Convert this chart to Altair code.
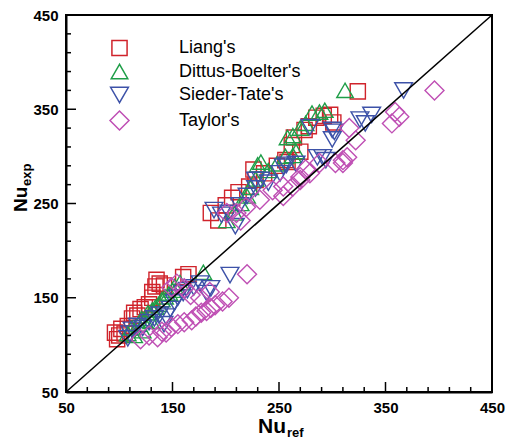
import altair as alt
import pandas as pd

series_names = ["Liang's", "Dittus-Boelter's", "Sieder-Tate's", "Taylor's"]
series_colors = ["#d0232b", "#1f9e48", "#3d52a8", "#bf4fb4"]
series_shapes = ["square", "triangle-up", "triangle-down", "diamond"]

liang_ref = [96, 98, 100, 102, 105, 108, 112, 114, 117, 120, 124, 128, 131, 131, 134, 135, 138, 142, 160, 165,
             186, 193, 200, 206, 212, 222, 228, 226, 236, 248, 256, 258, 262, 264, 270, 274, 278, 285, 292, 298, 301, 324]
liang_exp = [113, 106, 110, 117, 112, 120, 128, 134, 131, 138, 140, 143, 150, 156, 162, 169, 165, 163, 172, 175,
             240, 232, 248, 256, 262, 268, 275, 286, 282, 290, 296, 294, 312, 320, 305, 328, 332, 341, 343, 344, 336, 369]

dittus_ref = [108, 112, 114, 118, 121, 124, 127, 131, 134, 137, 140, 143, 147, 150, 152, 157, 179, 122, 130,
              201, 208, 214, 220, 223, 228, 230, 233, 240, 248, 256, 263, 266, 258, 263, 275, 281, 288, 293, 312, 270]
dittus_exp = [112, 118, 110, 122, 128, 126, 134, 137, 140, 143, 148, 151, 155, 158, 162, 166, 177, 115, 125,
              232, 240, 250, 258, 267, 276, 291, 294, 285, 292, 300, 301, 305, 320, 322, 335, 346, 347, 349, 370, 330]

sieder_ref = [108, 110, 112, 117, 122, 128, 133, 138, 142, 144, 148, 152, 155, 160, 164, 170, 176, 182, 186, 204,
              189, 196, 203, 209, 213, 220, 228, 228, 233, 240, 251, 254, 257, 266, 279, 286, 291, 294, 300, 302,
              300, 326, 331, 337, 367]
sieder_exp = [107, 112, 116, 120, 118, 124, 128, 132, 122, 130, 138, 145, 150, 155, 158, 161, 165, 155, 160, 174,
              243, 238, 240, 226, 248, 258, 266, 275, 275, 272, 282, 289, 291, 292, 331, 299, 299, 296, 318, 326,
              328, 339, 335, 344, 370]

taylor_ref = [120, 128, 136, 140, 144, 149, 155, 161, 168, 172, 177, 182, 186, 190, 197, 203, 149, 154, 161, 167,
              220, 176, 185,
              201, 210, 214, 219, 232, 244, 254, 254, 263, 270, 270, 275, 279, 288, 303, 310, 310, 314, 322, 316,
              356, 359, 363, 396]
taylor_exp = [106, 110, 108, 114, 113, 119, 122, 124, 126, 130, 134, 136, 139, 142, 146, 150, 161, 165, 160, 153,
              175, 150, 156,
              240, 240, 232, 246, 254, 264, 258, 268, 268, 278, 275, 286, 282, 293, 293, 296, 293, 299, 317, 330,
              335, 347, 342, 370]

axis_values = [50, 150, 250, 350, 450]
minor_values = [v for v in range(70, 450, 20) if (v - 50) % 100 != 0]
major_inner = [150, 250, 350]
diag = [50, 450]

x_title = ["Nu", "ref"]
y_title = ["Nu", "exp"]

frames = []
for name, xs_, ys_ in [(series_names[0], liang_ref, liang_exp), (series_names[1], dittus_ref, dittus_exp),
                       (series_names[2], sieder_ref, sieder_exp), (series_names[3], taylor_ref, taylor_exp)]:
    frames.append(pd.DataFrame({"ref": xs_, "exp": ys_, "series": name}))
df = pd.concat(frames, ignore_index=True)

W, H = 426, 377
FONT = "Liberation Sans"

xs = alt.Scale(domain=[50, 450], nice=False, zero=False)
ys = alt.Scale(domain=[50, 450], nice=False, zero=False)

leg = alt.Legend(orient="none", legendX=43, legendY=24, title=None, labelFontSize=18, labelFont=FONT,
                 labelColor="black", labelOffset=49, rowPadding=2, padding=0, symbolStrokeWidth=1.5,
                 labelLimit=300)

points = alt.Chart(df).mark_point(filled=False, strokeWidth=1.4, opacity=1).encode(
    x=alt.X("ref:Q", scale=xs, axis=alt.Axis(values=axis_values, title=None, labelFlush=False,
                                              labelOverlap=False, labelPadding=8)),
    y=alt.Y("exp:Q", scale=ys, axis=alt.Axis(values=axis_values, title=None, labelFlush=False,
                                              labelOverlap=False, labelPadding=8)),
    color=alt.Color("series:N", scale=alt.Scale(domain=series_names, range=series_colors), legend=leg),
    shape=alt.Shape("series:N", scale=alt.Scale(domain=series_names, range=series_shapes), legend=leg),
    size=alt.Size("series:N", scale=alt.Scale(domain=series_names, range=[230, 360, 360, 480]), legend=leg),
)

diag_line = alt.Chart(pd.DataFrame({"a": diag, "b": diag})).mark_line(color="black", strokeWidth=1.5).encode(
    x=alt.X("a:Q", scale=xs), y=alt.Y("b:Q", scale=ys))

minor_df = pd.DataFrame({"v": minor_values})
major_df = pd.DataFrame({"v": major_inner})

x_minor = alt.Chart(minor_df).mark_rule(color="black", strokeWidth=1.5).encode(
    x=alt.X("v:Q", scale=xs), y=alt.value(H), y2=alt.value(H - 5))
x_major = alt.Chart(major_df).mark_rule(color="black", strokeWidth=1.5).encode(
    x=alt.X("v:Q", scale=xs), y=alt.value(H), y2=alt.value(H - 10))
y_minor = alt.Chart(minor_df).mark_rule(color="black", strokeWidth=1.5).encode(
    y=alt.Y("v:Q", scale=ys), x=alt.value(0), x2=alt.value(5))
y_major = alt.Chart(major_df).mark_rule(color="black", strokeWidth=1.5).encode(
    y=alt.Y("v:Q", scale=ys), x=alt.value(0), x2=alt.value(10))

one = pd.DataFrame({"k": [0]})
xt1 = alt.Chart(one).mark_text(text=x_title[0], font=FONT, fontSize=21, fontWeight="bold", align="left",
                               baseline="alphabetic", color="black").encode(x=alt.value(192), y=alt.value(418))
xt2 = alt.Chart(one).mark_text(text=x_title[1], font=FONT, fontSize=13, fontWeight="bold", align="left",
                               baseline="alphabetic", color="black").encode(x=alt.value(221), y=alt.value(422))
yt1 = alt.Chart(one).mark_text(text=y_title[0], font=FONT, fontSize=19, fontWeight="bold", align="left",
                               baseline="alphabetic", angle=270, color="black").encode(x=alt.value(-39), y=alt.value(197))
yt2 = alt.Chart(one).mark_text(text=y_title[1], font=FONT, fontSize=13, fontWeight="bold", align="left",
                               baseline="alphabetic", angle=270, color="black").encode(x=alt.value(-35), y=alt.value(171))

chart = alt.layer(points, diag_line, x_minor, x_major, y_minor, y_major, xt1, xt2, yt1, yt2).properties(
    width=W, height=H,
    autosize=alt.AutoSizeParams(type="none"),
    padding={"left": 58, "top": 7, "right": 14, "bottom": 48},
).configure_view(stroke="black", strokeWidth=2).configure_axis(
    grid=False, ticks=False, domainColor="black", domainWidth=2, labelFont=FONT, labelFontSize=15,
    labelFontWeight="bold", labelColor="black",
)

chart.save("out.html", embed_options={"renderer": "svg", "actions": False})
